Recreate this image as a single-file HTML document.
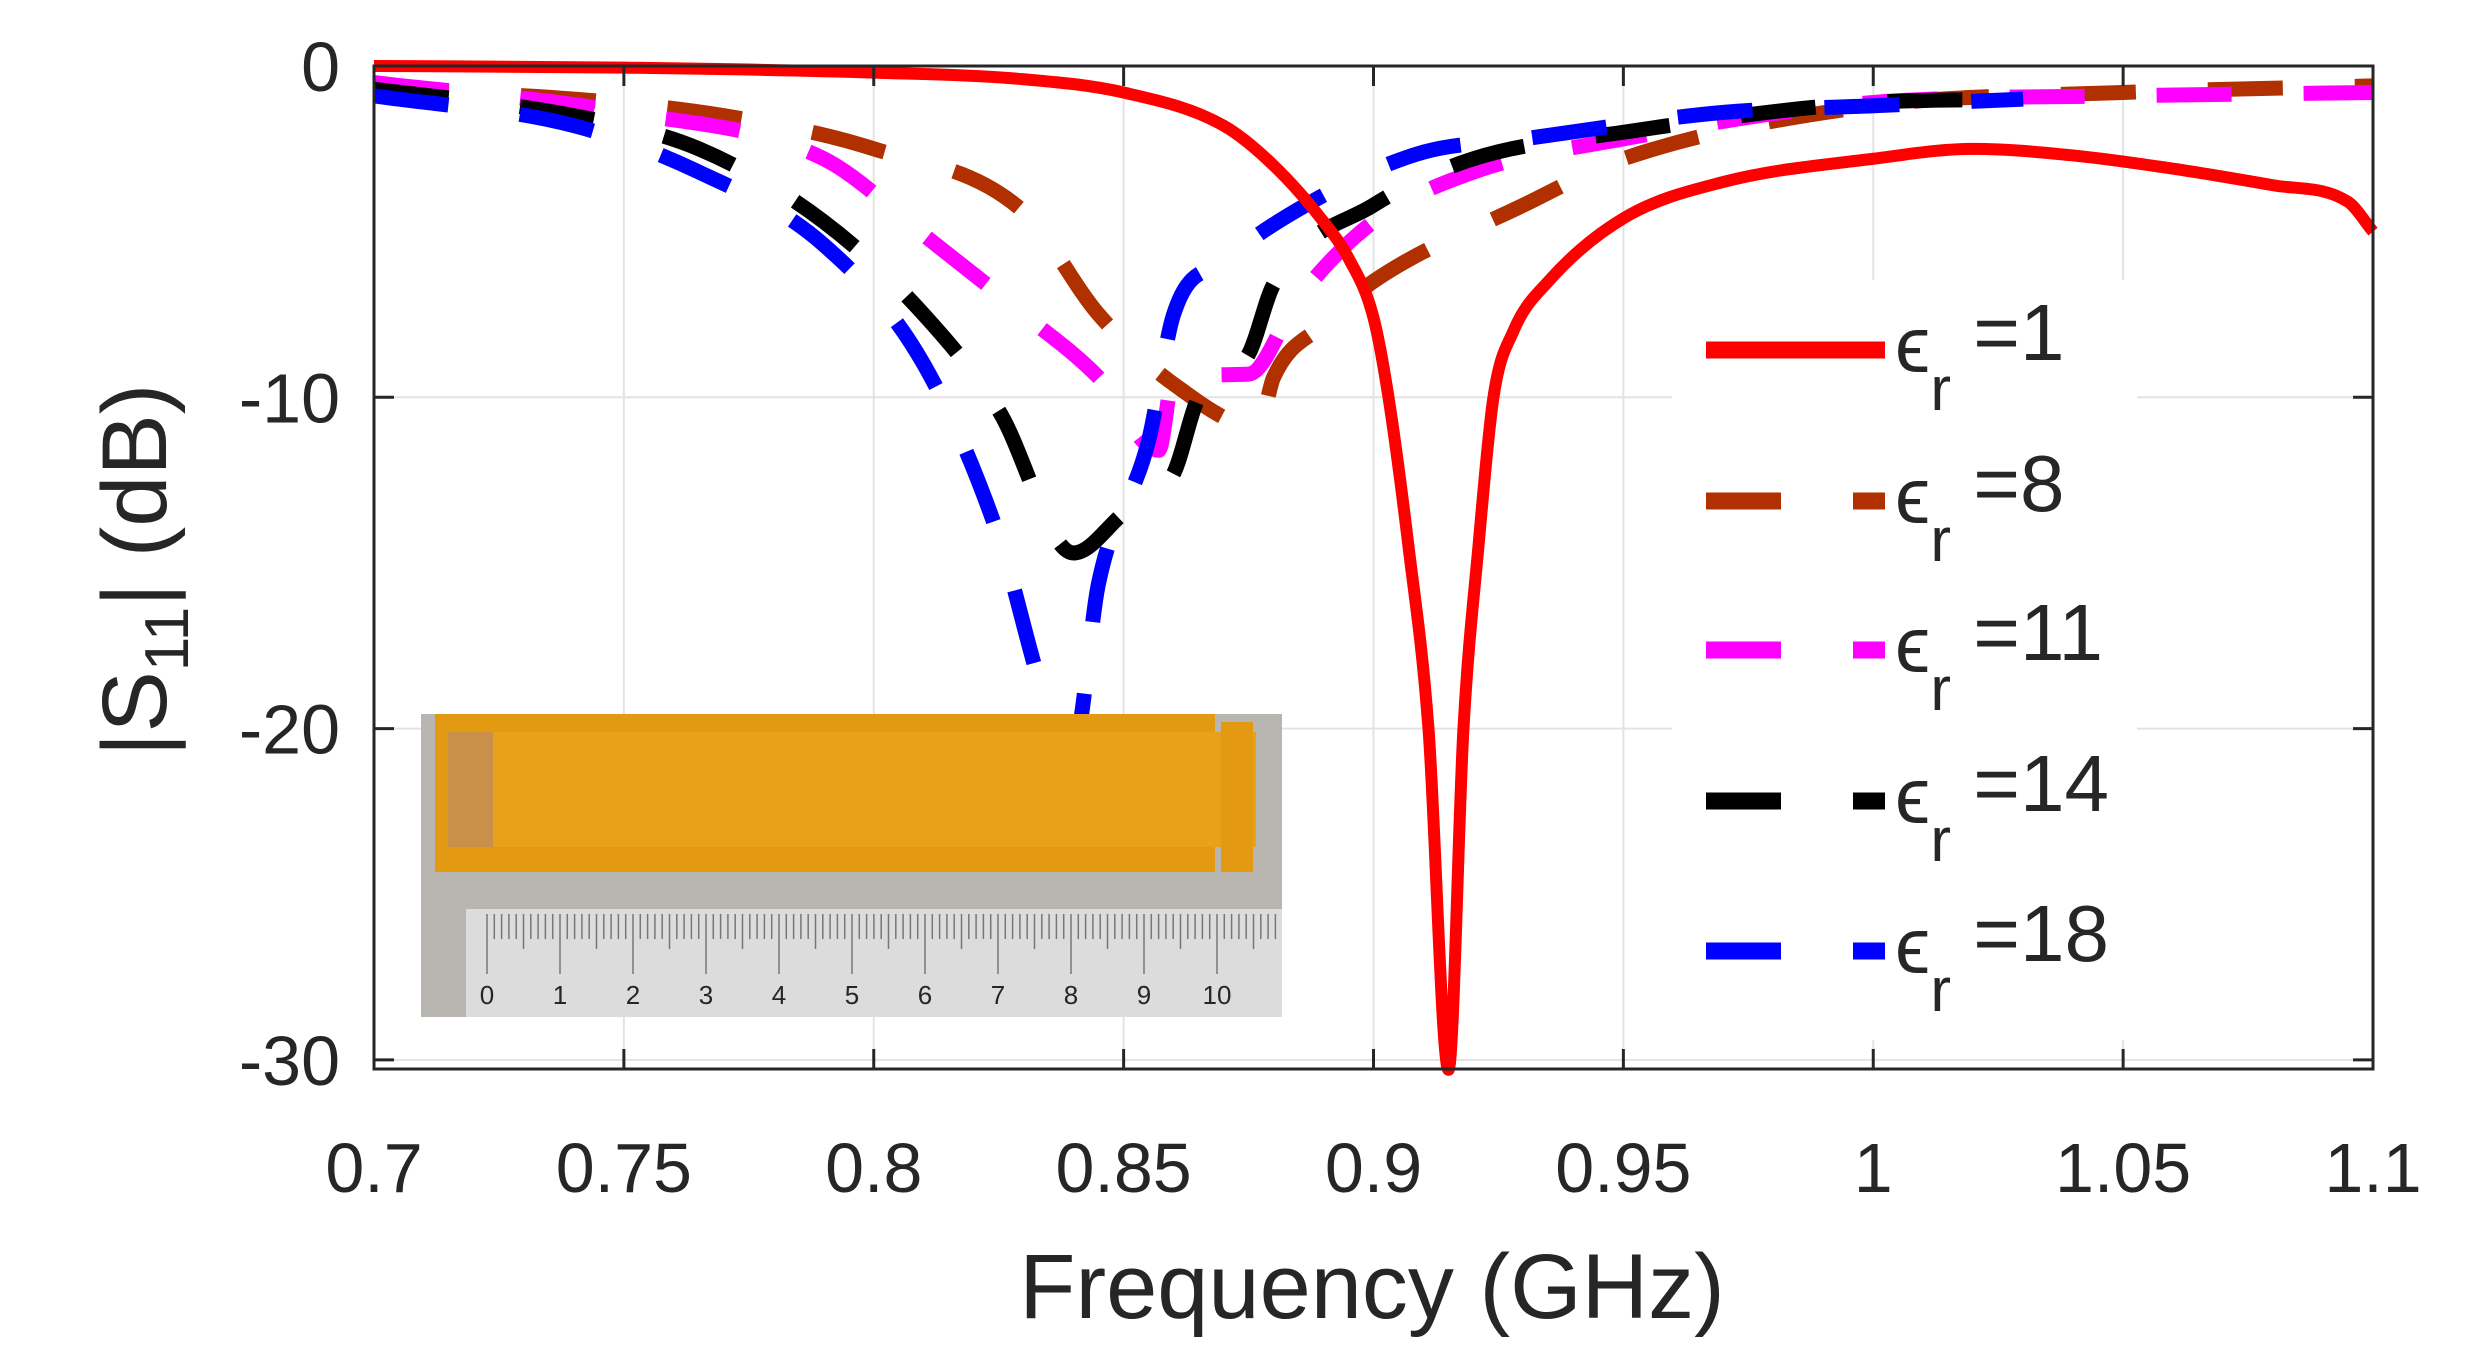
<!DOCTYPE html>
<html><head><meta charset="utf-8">
<style>
html,body{margin:0;padding:0;background:#fff;}
body{width:2472px;height:1364px;overflow:hidden;font-family:"Liberation Sans",sans-serif;}
svg text{font-family:"Liberation Sans",sans-serif;fill:#262626;}
</style></head>
<body>
<svg id="chart" width="2472" height="1364" viewBox="0 0 2472 1364" xmlns="http://www.w3.org/2000/svg">
  <g id="grid"></g>
  <g id="series"></g>
  <g id="inset"></g>
  <g id="axes"></g>
  <g id="legend"></g>
  <text x="1372" y="1318" font-size="92" text-anchor="middle">Frequency (GHz)</text>
  <text transform="translate(166,570) rotate(-90)" font-size="92" text-anchor="middle">|S<tspan font-size="62" dy="22">11</tspan><tspan dy="-22">| (dB)</tspan></text>
</svg>
<script>
const xTicks=[0.7,0.75,0.8,0.85,0.9,0.95,1,1.05,1.1];
const xTickLabels=["0.7","0.75","0.8","0.85","0.9","0.95","1","1.05","1.1"];
const yTicks=[0,-10,-20,-30];
const yTickLabels=["0","-10","-20","-30"];
const seriesNames=["\u03f5r =1","\u03f5r =8","\u03f5r =11","\u03f5r =14","\u03f5r =18"];
const legendValues=["=1","=8","=11","=14","=18"];
const colors=["#ff0000","#b03000","#ff00ff","#000000","#0000ff"];
const fR=[0.7,0.75,0.8,0.83,0.85,0.87,0.88,0.89,0.895,0.9,0.903,0.907,0.911,0.915,0.918,0.921,0.924,0.928,0.935,0.95,0.97,1.0,1.02,1.04,1.06,1.08,1.095,1.1];
const vR=[0,-0.05,-0.2,-0.4,-0.8,-1.8,-3.0,-4.7,-5.8,-7.6,-10,-14.5,-20,-30.3,-20,-14.5,-10,-8.0,-6.5,-4.6,-3.5,-2.8,-2.5,-2.7,-3.1,-3.6,-4.1,-5];
const f8=[0.7,0.74,0.77,0.8,0.83,0.845,0.86,0.877,0.88,0.89,0.9,0.93,0.95,1.0,1.05,1.1];
const v8=[-0.7,-1.0,-1.5,-2.5,-4.4,-7.5,-9.6,-10.9,-9.4,-7.8,-6.5,-4.2,-2.8,-1.2,-0.8,-0.6];
const f11=[0.7,0.75,0.79,0.81,0.83,0.845,0.857,0.86,0.875,0.885,0.9,0.92,0.95,1.0,1.05,1.1];
const v11=[-0.5,-1.4,-2.8,-5.1,-7.5,-9.4,-11.6,-9.4,-9.3,-7.0,-4.7,-3.2,-2.2,-1.1,-0.9,-0.8];
const f14=[0.7,0.74,0.765,0.79,0.81,0.825,0.84,0.85,0.86,0.865,0.875,0.88,0.9,0.92,0.95,1.0,1.03];
const v14=[-0.7,-1.5,-2.5,-4.7,-7.5,-10.4,-14.7,-13.5,-12.3,-10,-8.7,-6.6,-4.2,-2.8,-2.0,-1.1,-1.0];
const f18=[0.7,0.74,0.765,0.79,0.81,0.825,0.835,0.84,0.845,0.855,0.86,0.87,0.89,0.91,0.93,0.97,1.0,1.03];
const v18=[-0.9,-1.8,-3.2,-5.4,-9,-14.2,-19.4,-20.5,-15.6,-11.3,-7.5,-5.9,-3.9,-2.6,-2.2,-1.4,-1.2,-1.0];

const NS="http://www.w3.org/2000/svg";
const L=374,R=2373,T=66,B=1069;
const X=f=>L+(f-0.7)/0.4*(R-L);
const Y=d=>T+(-d)*33.13;
function mk(tag,attrs,parent){const e=document.createElementNS(NS,tag);for(const k in attrs)e.setAttribute(k,attrs[k]);parent.appendChild(e);return e;}
const grid=document.getElementById('grid'),axes=document.getElementById('axes'),ser=document.getElementById('series'),leg=document.getElementById('legend'),ins=document.getElementById('inset');
xTicks.forEach((t,i)=>{
  const g=mk('line',{x1:X(t),x2:X(t),y1:T,y2:B,stroke:'#e3e3e3','stroke-width':2},grid);
  
  
  const tk=mk('line',{x1:X(t),x2:X(t),y1:B,y2:B-20,stroke:'#262626','stroke-width':3},axes);
  
  
  const tk2=mk('line',{x1:X(t),x2:X(t),y1:T,y2:T+20,stroke:'#262626','stroke-width':3},axes);
  
  
  const tx=mk('text',{x:X(t),y:1192,'font-size':70,'text-anchor':'middle'},axes);
  tx.textContent=xTickLabels[i];
  
  
});
yTicks.forEach((t,i)=>{
  const g=mk('line',{x1:L,x2:R,y1:Y(t),y2:Y(t),stroke:'#e3e3e3','stroke-width':2},grid);
  
  
  const tk=mk('line',{x1:L,x2:L+20,y1:Y(t),y2:Y(t),stroke:'#262626','stroke-width':3},axes);
  
  
  const tk2=mk('line',{x1:R,x2:R-20,y1:Y(t),y2:Y(t),stroke:'#262626','stroke-width':3},axes);
  
  
  const tx=mk('text',{x:340,y:Y(t)+25,'font-size':70,'text-anchor':'end'},axes);
  tx.textContent=yTickLabels[i];
  
  
});
const box=mk('rect',{x:L,y:T,width:R-L,height:B-T,fill:'none',stroke:'#262626','stroke-width':3},axes);



function path(fs,vs){
  const p=fs.map((f,i)=>[X(f),Y(vs[i])]);
  const n=p.length,dl=[],m=[];
  for(let i=0;i<n-1;i++)dl.push((p[i+1][1]-p[i][1])/(p[i+1][0]-p[i][0]));
  m[0]=dl[0];m[n-1]=dl[n-2];
  for(let i=1;i<n-1;i++){m[i]=(dl[i-1]*dl[i]<=0)?0:(dl[i-1]+dl[i])/2;}
  for(let i=0;i<n-1;i++){
    if(dl[i]===0){m[i]=0;m[i+1]=0;continue;}
    const a=m[i]/dl[i],b=m[i+1]/dl[i],s=a*a+b*b;
    if(s>9){const t=3/Math.sqrt(s);m[i]=t*a*dl[i];m[i+1]=t*b*dl[i];}
  }
  let d='M'+p[0][0]+','+p[0][1];
  for(let i=0;i<n-1;i++){
    const h=(p[i+1][0]-p[i][0])/3;
    d+=` C${p[i][0]+h},${p[i][1]+m[i]*h} ${p[i+1][0]-h},${p[i+1][1]-m[i+1]*h} ${p[i+1][0]},${p[i+1][1]}`;
  }
  return d;
}
const allF=[fR,f8,f11,f14,f18],allV=[vR,v8,v11,v14,v18];
const seriesKeys=['series-er1','series-er8','series-er11','series-er14','series-er18'];
[1,2,3,4,0].forEach(i=>{
  const attrs={d:path(allF[i],allV[i]),fill:'none',stroke:colors[i],'stroke-width':i===0?12:15,'stroke-linejoin':'round'};
  if(i>0)attrs['stroke-dasharray']='75 72';
  const e=mk('path',attrs,ser);
  
  
});

const ix=421,iy=714,iw=861,ih=303;
const p1=mk('rect',{x:ix,y:iy,width:iw,height:ih,fill:'#b9b6b2'},ins);


const p2=mk('rect',{x:ix+14,y:iy,width:780,height:158,fill:'#e39a12'},ins);


const p3=mk('rect',{x:ix+70,y:iy+18,width:765,height:115,fill:'#eaa11a'},ins);


const p4=mk('rect',{x:ix+27,y:iy+18,width:45,height:115,fill:'#c9904a'},ins);


const p5=mk('rect',{x:ix+800,y:iy+8,width:32,height:150,fill:'#e39a12'},ins);


const p6=mk('rect',{x:ix+45,y:iy+195,width:iw-45,height:ih-195,fill:'#dcdcdc'},ins);


for(let k=0;k<=110;k++){
  const xx=ix+66+k*7.3;
  if(xx>ix+iw)break;
  const len=k%10===0?60:(k%5===0?35:25);
  const t=mk('line',{x1:xx,x2:xx,y1:iy+200,y2:iy+200+len,stroke:'#777','stroke-width':1.5},ins);
  
  
}
for(let k=0;k<=10;k++){
  const t=mk('text',{x:ix+66+k*73,y:iy+290,'font-size':26,'text-anchor':'middle'},ins);
  t.textContent=String(k);
  
  
}

const lb=mk('rect',{x:1672,y:280,width:465,height:760,fill:'#fff'},leg);


const rowsY=[350,501,650,801,951];
seriesNames.forEach((n,i)=>{
  const g=mk('g',{},leg);
  
  
  const ln=mk('line',{x1:1706,x2:1885,y1:rowsY[i],y2:rowsY[i],stroke:colors[i],'stroke-width':17},g);
  if(i>0)ln.setAttribute('stroke-dasharray','75 72');
  
  
  const t=mk('text',{x:1895,y:rowsY[i]+22,'font-size':80},g);
  t.innerHTML='\u03f5<tspan font-size="62" dy="38">r</tspan><tspan dy="-50"> </tspan><tspan>'+legendValues[i]+'</tspan>';
  
  
});
</script>
</body></html>
